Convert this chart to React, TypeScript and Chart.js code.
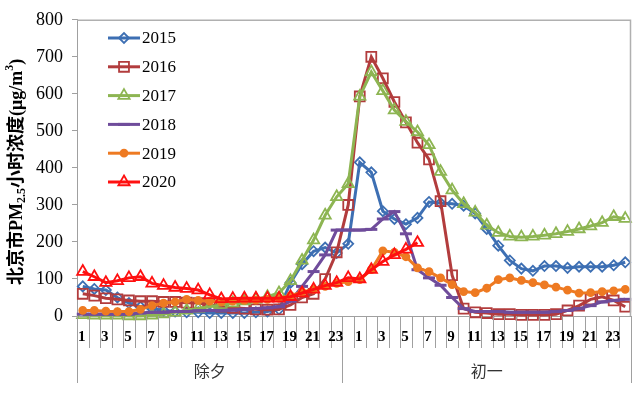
import React, { useEffect, useRef } from 'react';
import { Chart, registerables } from 'chart.js';

Chart.register(...registerables);

// ---- data ----
const groupNames = ['除夕', '初一'];
const eveHours = ['1','2','3','4','5','6','7','8','9','10','11','12','13','14','15','16','17','18','19','20','21','22','23'];
const dayHours = ['0','1','2','3','4','5','6','7','8','9','10','11','12','13','14','15','16','17','18','19','20','21','22','23','24'];
const categories = [...eveHours, ...dayHours];

const yMin = 0;
const yMax = 800;
const yStep = 100;

const seriesNames = ['2015', '2016', '2017', '2018', '2019', '2020'];

const s2015 = [80, 73, 70, 50, 35, 25, 20, 15, 12, 10, 10, 8, 8, 8, 8, 10, 12, 18, 90, 140, 175, 185, 170, 195,
  415, 388, 283, 262, 248, 265, 308, 305, 303, 298, 277, 235, 190, 150, 128, 122, 135, 135, 130, 133, 133, 133, 137, 145];
const s2016 = [60, 55, 48, 45, 42, 40, 40, 38, 38, 36, 35, 30, 25, 22, 20, 18, 17, 18, 30, 50, 60, 100, 172, 300,
  593, 700, 642, 578, 523, 468, 423, 310, 110, 20, 10, 8, 5, 5, 3, 3, 3, 5, 15, 28, 45, 52, 42, 25];
const s2017 = [3, 2, 2, 2, 0, 0, 2, 5, 10, 15, 20, 25, 30, 35, 40, 45, 52, 62, 95, 150, 205, 272, 322, 357,
  593, 659, 608, 556, 525, 497, 462, 390, 340, 303, 280, 245, 225, 215, 213, 215, 218, 222, 228, 235, 243, 252, 268, 263];
const s2018 = [5, 5, 5, 5, 5, 8, 10, 10, 12, 12, 14, 15, 15, 16, 18, 20, 22, 25, 40, 80, 120, 165, 232, 232,
  232, 234, 262, 282, 222, 125, 103, 83, 50, 20, 12, 12, 12, 10, 10, 10, 10, 12, 15, 20, 28, 38, 42, 45];
const s2019 = [15, 15, 13, 12, 12, 18, 28, 35, 38, 45, 42, 40, 38, 40, 42, 43, 45, 48, 55, 65, 72, 80, 88, 93,
  98, 125, 176, 172, 160, 130, 120, 103, 85, 66, 63, 75, 98, 103, 96, 90, 84, 78, 70, 62, 63, 66, 68, 72];
const s2020 = [120, 106, 90, 95, 103, 106, 88, 82, 77, 74, 70, 57, 46, 47, 48, 48, 48, 48, 52, 62, 72, 82, 90, 103,
  100, 125, 147, 165, 180, 198];

const seriesData = [s2015, s2016, s2017, s2018, s2019, s2020];
const seriesColors = ['#3D6FB3', '#B23C3D', '#8DB552', '#6F4C9B', '#EE7A22', '#FF1010'];
const seriesMarkers = ['rectRot', 'rect', 'triangle', 'line', 'circle', 'triangle'];
const markerRadius = [5, 7, 6.5, 6, 3.5, 6.5];
const markerFill = ['transparent', 'transparent', 'transparent', 'transparent', '#EE7A22', 'transparent'];

function drawMarker(ctx: CanvasRenderingContext2D, style: string, x: number, y: number, r: number, color: string, fill: string) {
  ctx.save();
  ctx.strokeStyle = color;
  ctx.fillStyle = fill;
  ctx.lineWidth = style === 'line' ? 3 : 1.8;
  ctx.beginPath();
  if (style === 'rectRot') {
    ctx.moveTo(x - r, y); ctx.lineTo(x, y - r); ctx.lineTo(x + r, y); ctx.lineTo(x, y + r); ctx.closePath();
  } else if (style === 'rect') {
    const s = r * Math.SQRT1_2;
    ctx.rect(x - s, y - s, 2 * s, 2 * s);
  } else if (style === 'triangle') {
    const a = (2 * Math.PI) / 3;
    ctx.moveTo(x, y - r);
    ctx.lineTo(x + Math.sin(a) * r, y - Math.cos(a) * r);
    ctx.lineTo(x + Math.sin(2 * a) * r, y - Math.cos(2 * a) * r);
    ctx.closePath();
  } else if (style === 'line') {
    ctx.moveTo(x - r, y); ctx.lineTo(x + r, y);
  } else {
    ctx.arc(x, y, r, 0, Math.PI * 2);
  }
  if (fill !== 'transparent' && style !== 'line') ctx.fill();
  ctx.stroke();
  ctx.restore();
}

const decorPlugin = {
  id: 'decor',
  afterDraw(chart: any) {
    const ctx: CanvasRenderingContext2D = chart.ctx;
    const area = chart.chartArea;
    const xs = chart.scales.x;
    const n = categories.length;
    ctx.save();

    // plot area border (top, right)
    ctx.strokeStyle = '#B0B0B0';
    ctx.lineWidth = 1.5;
    ctx.beginPath();
    ctx.moveTo(area.left, area.top + 0.5);
    ctx.lineTo(area.right - 0.5, area.top + 0.5);
    ctx.lineTo(area.right - 0.5, area.bottom);
    ctx.stroke();

    // category tick lines below the axis
    const step = xs.getPixelForValue(1) - xs.getPixelForValue(0);
    const first = xs.getPixelForValue(0) - step / 2;
    ctx.strokeStyle = '#A0A0A0';
    ctx.lineWidth = 1;
    for (let i = 0; i <= n; i++) {
      const px = Math.round(first + i * step) + 0.5;
      const isGroup = i === 0 || i === eveHours.length || i === n;
      ctx.beginPath();
      ctx.moveTo(px, area.bottom);
      ctx.lineTo(px, area.bottom + (isGroup ? 67 : 32));
      ctx.stroke();
    }

    // hour labels
    ctx.fillStyle = '#000';
    ctx.font = 'bold 15px "Liberation Serif"';
    ctx.textAlign = 'center';
    ctx.textBaseline = 'middle';
    categories.forEach((c, i) => {
      if (i % 2 === 0) ctx.fillText(c, xs.getPixelForValue(i) - 1, area.bottom + 21);
    });

    // group labels
    ctx.font = '16px "Noto Sans CJK SC"';
    ctx.fillStyle = '#333';
    const g1 = (xs.getPixelForValue(0) + xs.getPixelForValue(eveHours.length - 1)) / 2;
    const g2 = (xs.getPixelForValue(eveHours.length) + xs.getPixelForValue(n - 1)) / 2;
    ctx.fillText(groupNames[0], g1, area.bottom + 55);
    ctx.fillText(groupNames[1], g2, area.bottom + 55);

    // y-axis title (rotated, with sub/superscript)
    const segs = [
      { t: '北京市PM', s: 18, dy: 0 },
      { t: '2.5', s: 12, dy: 5 },
      { t: '小时浓度(μg/m', s: 18, dy: 0 },
      { t: '3', s: 12, dy: -7 },
      { t: ')', s: 18, dy: 0 },
    ];
    const fontOf = (s: number) => `bold ${s}px "Liberation Serif", "Noto Sans CJK SC"`;
    let total = 0;
    segs.forEach((sg) => { ctx.font = fontOf(sg.s); total += ctx.measureText(sg.t).width; });
    ctx.translate(17, (area.top + area.bottom) / 2 + 4);
    ctx.rotate(-Math.PI / 2);
    ctx.textAlign = 'left';
    ctx.textBaseline = 'middle';
    ctx.fillStyle = '#000';
    let cx = -total / 2;
    segs.forEach((sg) => {
      ctx.font = fontOf(sg.s);
      ctx.fillText(sg.t, cx, sg.dy);
      cx += ctx.measureText(sg.t).width;
    });
    ctx.setTransform(1, 0, 0, 1, 0, 0);

    // legend
    ctx.textAlign = 'left';
    ctx.textBaseline = 'middle';
    ctx.font = '17px "Liberation Serif"';
    seriesNames.forEach((name, i) => {
      const ly = 38 + i * 28.8;
      ctx.strokeStyle = seriesColors[i];
      ctx.lineWidth = 3;
      ctx.beginPath();
      ctx.moveTo(108, ly);
      ctx.lineTo(140, ly);
      ctx.stroke();
      drawMarker(ctx, seriesMarkers[i], 124, ly, markerRadius[i], seriesColors[i], markerFill[i]);
      ctx.fillStyle = '#000';
      ctx.fillText(name, 142, ly + 1);
    });
    ctx.restore();
  },
};

export default function App() {
  const ref = useRef<HTMLCanvasElement>(null);
  useEffect(() => {
    document.body.style.margin = '0';
    const canvas = ref.current;
    if (!canvas) return;
    const chart = new Chart(canvas, {
      type: 'line',
      data: {
        labels: categories,
        datasets: seriesNames.map((name, i) => ({
          label: name,
          data: seriesData[i],
          borderColor: seriesColors[i],
          backgroundColor: seriesColors[i],
          borderWidth: 3,
          tension: 0,
          pointStyle: seriesMarkers[i] as any,
          pointRadius: markerRadius[i],
          pointBorderWidth: seriesMarkers[i] === 'line' ? 3 : 1.8,
          pointBorderColor: seriesColors[i],
          pointBackgroundColor: markerFill[i],
          order: seriesNames.length - i,
          clip: false as any,
        })),
      },
      options: {
        animation: false,
        responsive: false,
        devicePixelRatio: 1,
        layout: { padding: { top: 11, right: 9, left: 0, bottom: 0 } },
        plugins: { legend: { display: false }, tooltip: { enabled: false } },
        scales: {
          x: {
            type: 'category',
            offset: true,
            grid: { display: false },
            border: { display: true, color: '#A0A0A0', width: 1 },
            ticks: { display: false },
            afterFit: (scale: any) => { scale.height = 82; },
          },
          y: {
            min: yMin,
            max: yMax,
            ticks: {
              stepSize: yStep,
              color: '#000',
              padding: 9,
              font: { family: '"Liberation Serif"', size: 18 },
            },
            grid: { display: true, drawOnChartArea: false, drawTicks: true, tickLength: 5, color: '#A0A0A0' },
            border: { display: true, color: '#A0A0A0', width: 1 },
            afterFit: (scale: any) => { scale.width = 77; },
          },
        },
      },
      plugins: [decorPlugin],
    });
    return () => chart.destroy();
  }, []);
  return (
    <div style={{ width: 640, height: 398, background: '#fff' }}>
      <canvas ref={ref} width={640} height={398} style={{ display: 'block' }} />
    </div>
  );
}
